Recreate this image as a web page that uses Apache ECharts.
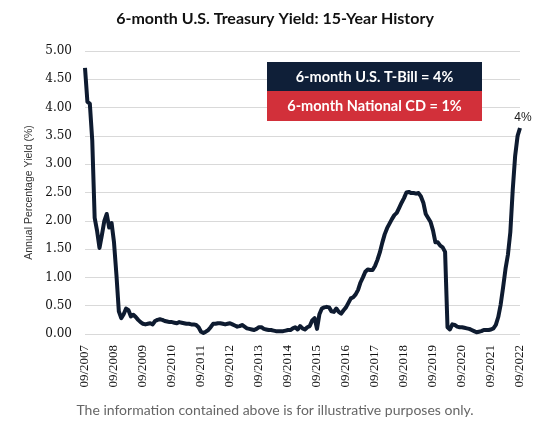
<!DOCTYPE html>
<html><head><meta charset="utf-8">
<script src="https://cdn.jsdelivr.net/npm/echarts@6/dist/echarts.min.js"></script>
<style>html,body{margin:0;padding:0;background:#fff}#c{width:550px;height:430px}</style>
</head><body><div id="c"></div>
<script>
// Monthly 6-month T-bill yield, 09/2007 .. 09/2022
const startYear = 2007, startMonth = 9;
const yields = [
4.70,4.10,4.07,3.42,2.05,1.82,1.52,1.75,2.00,2.12,1.88,1.96,1.62,1.05,0.40,0.28,0.35,0.45,0.42,0.31,
0.34,0.30,0.25,0.21,0.18,0.17,0.18,0.19,0.17,0.23,0.25,0.26,0.25,0.23,0.22,0.21,0.21,0.20,0.19,0.21,
0.20,0.19,0.18,0.18,0.17,0.17,0.16,0.12,0.04,0.02,0.04,0.07,0.12,0.18,0.18,0.19,0.19,0.18,0.17,0.18,
0.19,0.17,0.15,0.13,0.14,0.16,0.13,0.10,0.09,0.08,0.07,0.09,0.12,0.12,0.09,0.08,0.07,0.07,0.06,0.05,
0.05,0.05,0.05,0.06,0.07,0.07,0.10,0.12,0.08,0.14,0.10,0.08,0.12,0.14,0.24,0.28,0.09,0.35,0.45,0.47,
0.48,0.47,0.40,0.39,0.45,0.39,0.36,0.42,0.47,0.55,0.63,0.65,0.70,0.78,0.91,1.00,1.10,1.14,1.13,1.13,
1.20,1.31,1.44,1.61,1.76,1.87,1.95,2.03,2.10,2.14,2.23,2.32,2.40,2.50,2.51,2.49,2.49,2.48,2.49,2.43,
2.32,2.12,2.05,1.98,1.83,1.62,1.62,1.56,1.53,1.45,0.12,0.08,0.17,0.16,0.13,0.12,0.12,0.11,0.10,0.09,
0.07,0.05,0.03,0.04,0.05,0.07,0.07,0.07,0.08,0.10,0.16,0.30,0.52,0.82,1.15,1.40,1.80,2.55,3.15,3.50,
3.64
];
const titleText = "6-month U.S. Treasury Yield: 15-Year History";
const yAxisTitle = "Annual Percentage Yield (%)";
const boxTop = "6-month U.S. T-Bill = 4%";
const boxBottom = "6-month National CD = 1%";
const endLabel = "4%";
const footnote = "The information contained above is for illustrative purposes only.";

const months = yields.map((v,i)=>{
  const m = (startMonth - 1 + i) % 12 + 1;
  const y = startYear + Math.floor((startMonth - 1 + i) / 12);
  return (m<10?'0':'') + m + '/' + y;
});
const lastIdx = yields.length - 1;

const chart = echarts.init(document.getElementById('c'));
chart.setOption({
  animation:false,
  title:{text:titleText,left:'center',top:6,textStyle:{fontFamily:'Lato',fontWeight:'bold',fontSize:16,color:'#111'}},
  grid:{left:85,right:30,top:51,bottom:96},
  xAxis:{type:'category',data:months,boundaryGap:false,
    axisLine:{show:false},axisTick:{show:false},
    axisLabel:{interval:11,rotate:90,margin:11,fontFamily:'Liberation Serif',fontSize:13,color:'#111'}},
  yAxis:{type:'value',min:0,max:5,interval:0.5,
    name:yAxisTitle,nameLocation:'middle',nameGap:50,nameTextStyle:{fontFamily:'Liberation Sans',fontSize:10.5,color:'#333'},
    axisLabel:{formatter:v=>v.toFixed(2),fontFamily:'DejaVu Serif',fontSize:12,color:'#111',margin:13},
    splitLine:{lineStyle:{color:'#d9d9d9',width:1}},axisLine:{show:false},axisTick:{show:false}},
  series:[{type:'line',data:yields,showSymbol:false,symbol:'none',
    lineStyle:{color:'#0e1b30',width:4,join:'round'},
    markPoint:{symbol:'circle',symbolSize:0,
      label:{show:true,position:'top',distance:4,formatter:endLabel,fontFamily:'Liberation Sans',fontSize:12,color:'#222',offset:[3,0]},
      data:[{coord:[lastIdx,yields[lastIdx]]}]}}],
  graphic:[
    {type:'rect',z:100,left:267,top:62,shape:{width:215,height:29},style:{fill:'#0f1f38'}},
    {type:'rect',z:100,left:267,top:91,shape:{width:215,height:30},style:{fill:'#d2303a'}},
    {type:'text',z:101,x:374.5,y:77,style:{text:boxTop,fill:'#fff',font:'bold 14.5px Lato',textAlign:'center',textVerticalAlign:'middle'}},
    {type:'text',z:101,x:374.5,y:106.5,style:{text:boxBottom,fill:'#fff',font:'bold 14.5px Lato',textAlign:'center',textVerticalAlign:'middle'}},
    {type:'text',x:275,y:410,style:{text:footnote,fill:'#666',font:'14px Lato',textAlign:'center',textVerticalAlign:'middle'}}
  ]
});
</script></body></html>
